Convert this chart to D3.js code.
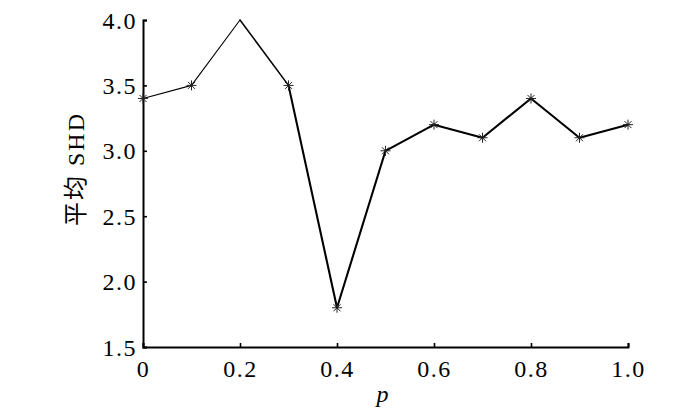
<!DOCTYPE html>
<html>
<head>
<meta charset="utf-8">
<script src="https://cdn.jsdelivr.net/npm/d3@7"></script>
<style>
  body { margin: 0; background: #fff; }
  svg { display: block; }
</style>
</head>
<body>
<div id="chart"></div>
<script>
const pValues = [0, 0.1, 0.2, 0.3, 0.4, 0.5, 0.6, 0.7, 0.8, 0.9, 1.0];
const avgShd = [3.4, 3.5, 4.0, 3.5, 1.8, 3.0, 3.2, 3.1, 3.4, 3.1, 3.2];
const xTicks = [0, 0.2, 0.4, 0.6, 0.8, 1.0];
const yTicks = [1.5, 2.0, 2.5, 3.0, 3.5, 4.0];

const width = 700, height = 413;
const margin = {top: 20, right: 72, bottom: 66, left: 143};
const w = width - margin.left - margin.right;
const h = height - margin.top - margin.bottom;

const serif = "'Liberation Serif', 'Times New Roman', 'Noto Sans CJK SC', serif";

const svg = d3.select("#chart").append("svg")
    .attr("width", width)
    .attr("height", height);

const g = svg.append("g")
    .attr("transform", `translate(${margin.left},${margin.top})`);

const x = d3.scaleLinear().domain([0, 1]).range([0, w]);
const y = d3.scaleLinear().domain([1.5, 4.0]).range([h, 0]);

// axes, ticks pointing inward
const xAxis = g.append("g")
    .attr("transform", `translate(0,${h})`)
    .call(d3.axisBottom(x).tickValues(xTicks).tickSizeInner(-4).tickSizeOuter(-4).tickPadding(13)
        .tickFormat(d => d === 0 ? "0" : d3.format(".1f")(d)));

const yAxis = g.append("g")
    .call(d3.axisLeft(y).tickValues(yTicks).tickSizeInner(-4).tickSizeOuter(-4).tickPadding(6)
        .tickFormat(d3.format(".1f")));

[xAxis, yAxis].forEach(a => {
    a.select(".domain").attr("stroke", "#000").attr("stroke-width", 2);
    a.selectAll(".tick line").attr("stroke", "#000").attr("stroke-width", 1.6);
    a.selectAll("text")
        .attr("fill", "#000")
        .style("font-family", serif)
        .style("font-size", "24px")
        .style("letter-spacing", "1.5px");
});
yAxis.selectAll("text").attr("dy", "0.34em");

// line segments (early segments drawn thinner, as in the original)
const pts = pValues.map((p, i) => ({p, v: avgShd[i]}));
const segs = d3.pairs(pts);
const segWidth = i => i < 2 ? 1.1 : (i === 2 ? 1.5 : 2.1);

g.append("g").selectAll("line")
    .data(segs)
    .join("line")
    .attr("x1", d => x(d[0].p))
    .attr("y1", d => y(d[0].v))
    .attr("x2", d => x(d[1].p))
    .attr("y2", d => y(d[1].v))
    .attr("stroke", "#000")
    .attr("stroke-width", (d, i) => segWidth(i))
    .attr("stroke-linecap", "round");

// asterisk markers (the point on the top edge is clipped away)
const r = 5;
const marker = g.append("g").selectAll("g")
    .data(pts.filter(d => d.v < y.domain()[1]))
    .join("g")
    .attr("transform", d => `translate(${x(d.p)},${y(d.v)})`);

const arms = [[-r, 0, r, 0], [0, -r, 0, r], [-r * 0.7, -r * 0.7, r * 0.7, r * 0.7], [-r * 0.7, r * 0.7, r * 0.7, -r * 0.7]];
marker.selectAll("line")
    .data(arms)
    .join("line")
    .attr("x1", d => d[0]).attr("y1", d => d[1])
    .attr("x2", d => d[2]).attr("y2", d => d[3])
    .attr("stroke", "#222")
    .attr("stroke-width", 1);

// axis titles
svg.append("text")
    .attr("x", margin.left + w / 2 - 3)
    .attr("y", 402)
    .attr("text-anchor", "middle")
    .style("font-family", serif)
    .style("font-style", "italic")
    .style("font-size", "24px")
    .text("p");

svg.append("text")
    .attr("transform", "translate(84,169) rotate(-90)")
    .attr("text-anchor", "middle")
    .style("font-family", serif)
    .style("font-size", "24px")
    .style("letter-spacing", "2px")
    .text("平均 SHD");
</script>
</body>
</html>
